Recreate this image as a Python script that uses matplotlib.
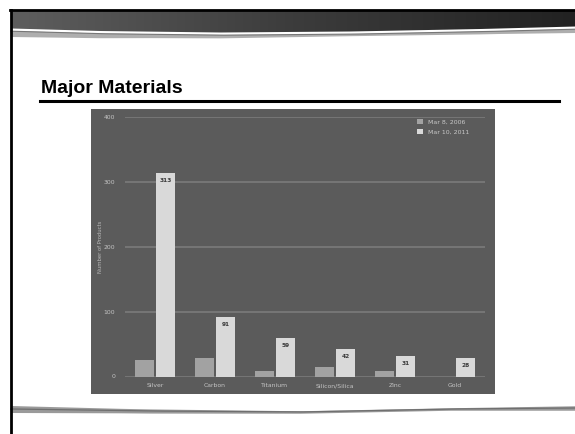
import numpy as np
import matplotlib
matplotlib.use("Agg")
import matplotlib.pyplot as plt

# ---- data -------------------------------------------------------------
materials = ["Silver", "Carbon", "Titanium", "Silicon/Silica", "Zinc", "Gold"]
count_2006 = [25, 28, 8, 14, 8, 0]
count_2011 = [313, 91, 59, 42, 31, 28]
series_names = ["Mar 8, 2006", "Mar 10, 2011"]
y_ticks = [0, 100, 200, 300, 400]

W, H = 575, 434
fig = plt.figure(figsize=(W / 100, H / 100), dpi=100, facecolor="white")

# ---- slide decoration (pixel coordinates) ------------------------------
deco = fig.add_axes([0, 0, 1, 1], zorder=0)
deco.set_xlim(0, W)
deco.set_ylim(H, 0)
deco.axis("off")

# header banner with a horizontal gradient
grad = np.linspace(0, 1, 256)[None, :]
deco.imshow(grad, cmap=matplotlib.colors.LinearSegmentedColormap.from_list(
    "hdr", ["#5e5e5e", "#3c3c3c", "#222222"]), aspect="auto",
    extent=[11, W, 36, 10], zorder=1)

xs = np.linspace(11, W, 300)
wave_top = np.interp(xs, [11, 100, 220, 350, 480, W], [28, 30.5, 32, 31, 28.5, 26])
# white sweep cutting the bottom of the banner
deco.fill_between(xs, wave_top, 40, color="white", zorder=2, lw=0)
# grey swoosh under the banner
thick = np.interp(xs, [11, 150, 350, 500, W], [6, 4, 2.2, 3, 4])
deco.fill_between(xs, wave_top + 2.5, wave_top + 2.5 + thick,
                  color="#a0a0a0", zorder=3, lw=0, alpha=0.85)
deco.plot(xs, wave_top + 3.2, color="#777777", lw=0.8, zorder=3)

# frame lines: top and left
deco.plot([10, W], [10, 10], color="black", lw=2.0, zorder=4)
deco.plot([11, 11], [10, H], color="black", lw=2.0, zorder=4)

# footer swoosh
fx = np.linspace(11, W, 300)
f_mid = np.interp(fx, [11, 150, 300, 450, W], [409, 411, 412, 409, 408])
f_th = np.interp(fx, [11, 120, 300, 450, W], [7, 4.5, 2.5, 2.5, 4.5])
deco.fill_between(fx, f_mid - f_th / 2, f_mid + f_th / 2,
                  color="#9a9a9a", lw=0, zorder=2)
deco.plot(fx, f_mid, color="#6f6f6f", lw=0.9, zorder=3)

# slide title and rule
deco.text(41, 93, "Major Materials", fontsize=14, fontweight="bold",
          family="Liberation Sans", color="black", va="baseline", ha="left",
          zorder=5)
deco.plot([40, 559], [100.5, 100.5], color="black", lw=2.2, zorder=5)

# ---- embedded chart ----------------------------------------------------
frame = fig.add_axes([91 / W, 1 - 394 / H, 404 / W, 285 / H], zorder=1)
frame.set_facecolor("#5b5b5b")
frame.set_xticks([])
frame.set_yticks([])
for s in frame.spines.values():
    s.set_visible(False)

ax = fig.add_axes([125 / W, 1 - 376.5 / H, 360 / W, 259.5 / H], zorder=2)
ax.set_facecolor("none")
for s in ax.spines.values():
    s.set_visible(False)

x = np.arange(len(materials))
bw = 0.32
off = 0.18
c_old, c_new = "#a2a2a2", "#d9d9d9"
ax.bar(x - off, count_2006, bw, color=c_old, label=series_names[0], zorder=3)
bars = ax.bar(x + off, count_2011, bw, color=c_new, label=series_names[1],
              zorder=3)

for b, v in zip(bars, count_2011):
    ax.annotate(str(v), (b.get_x() + b.get_width() / 2, v),
                xytext=(0, -5), textcoords="offset points",
                ha="center", va="center", fontsize=4.2, color="#3a3a3a",
                fontweight="bold", zorder=4)

ax.set_xlim(-0.5, len(materials) - 0.5)
ax.set_ylim(0, 400)
ax.set_yticks(y_ticks)
ax.set_xticks(x)
ax.set_xticklabels(materials)
ax.tick_params(axis="both", length=0, labelsize=4.4, labelcolor="#c4c4c4")
ax.tick_params(axis="y", pad=7)
ax.tick_params(axis="x", pad=5)
ax.yaxis.grid(True, color="#7e7e7e", lw=1.1, zorder=1)
ax.set_axisbelow(True)

fig.text(100 / W, 1 - 247 / H, "Number of Products", rotation=90,
         fontsize=3.8, color="#b8b8b8", ha="center", va="center", zorder=3)

leg = ax.legend(loc="upper left", bbox_to_anchor=(417 / W, 1 - 119 / H),
                bbox_transform=fig.transFigure, frameon=False,
                fontsize=4.5, labelcolor="#c8c8c8", handlelength=0.9,
                handleheight=0.9, handletextpad=0.8, labelspacing=0.7,
                borderaxespad=0, borderpad=0)

fig.savefig("out.png", dpi=100, facecolor="white")
